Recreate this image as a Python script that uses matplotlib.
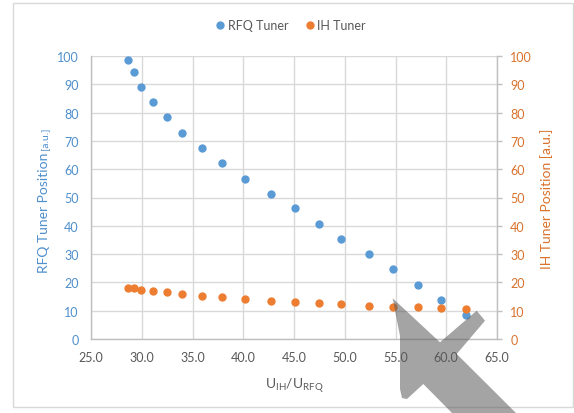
import matplotlib
matplotlib.use("Agg")
from matplotlib import pyplot as plt
from matplotlib.lines import Line2D
from matplotlib.patches import Polygon, Rectangle
from matplotlib.ticker import FormatStrFormatter, MultipleLocator

plt.rcParams["font.family"] = ["Lato", "DejaVu Sans"]
plt.rcParams["mathtext.fontset"] = "custom"
plt.rcParams["mathtext.rm"] = "Lato"

# voltage ratio U_IH / U_RFQ (shared by both series)
u_ratio = [28.6, 29.2, 29.9, 31.1, 32.5, 34.0, 35.9, 37.9, 40.2, 42.7,
           45.1, 47.5, 49.6, 52.4, 54.8, 57.2, 59.5, 61.9]
rfq_tuner = [98.7, 94.3, 88.9, 83.7, 78.3, 72.8, 67.6, 62.2, 56.6, 51.4,
             46.2, 40.6, 35.3, 30.0, 24.6, 19.2, 13.9, 8.6]
ih_tuner = [18.0, 17.9, 17.4, 17.1, 16.5, 16.0, 15.2, 14.7, 14.1, 13.5,
            13.1, 12.8, 12.4, 11.8, 11.4, 11.2, 10.9, 10.7]
series_names = ["RFQ Tuner", "IH Tuner"]

blue = "#5B9BD5"
orange = "#ED7D31"
blue_txt = "#4F8FCC"
orange_txt = "#D9722C"
gray_txt = "#595959"
grid_c = "#D9D9D9"
axis_c = "#BFBFBF"

W, H = 574, 414


def px(x, y):
    "pixel (from top-left) -> figure fraction"
    return x / W, 1 - y / H


fig = plt.figure(figsize=(W / 100, H / 100), dpi=100)
ax = fig.add_axes([91 / W, 74 / H, 406 / W, 283 / H])
ax2 = ax.twinx()

# outer chart frame
x0, y0 = px(13, 408)
fig.add_artist(Rectangle((x0, y0), 560 / W, 404 / H, transform=fig.transFigure,
                         fill=False, ec=grid_c, lw=1.0))

ax.set_xlim(25, 65)
ax.set_ylim(0, 100)
ax2.set_ylim(0, 100)
ax.xaxis.set_major_locator(MultipleLocator(5))
ax.xaxis.set_major_formatter(FormatStrFormatter("%.1f"))
ax.yaxis.set_major_locator(MultipleLocator(10))
ax2.yaxis.set_major_locator(MultipleLocator(10))

ax.grid(True, color=grid_c, lw=1.0)
ax.set_axisbelow(True)

for s in ["top", "right"]:
    ax.spines[s].set_visible(False)
for s in ["left", "bottom"]:
    ax.spines[s].set_color(axis_c)
    ax.spines[s].set_linewidth(1.0)
for s in ["top", "left", "bottom"]:
    ax2.spines[s].set_visible(False)
ax2.spines["right"].set_color(axis_c)
ax2.spines["right"].set_linewidth(1.0)

ax.tick_params(axis="x", length=0, labelcolor=gray_txt, labelsize=9, pad=9)
ax.tick_params(axis="y", length=0, labelcolor=blue_txt, labelsize=9, pad=9)
ax2.tick_params(axis="y", length=3.5, width=1.0, color=axis_c,
                labelcolor=orange_txt, labelsize=9, pad=6)

ax.plot(u_ratio, rfq_tuner, ls="none", marker="o", ms=6, color=blue,
        mec="none", clip_on=False, zorder=3)
ax2.plot(u_ratio, ih_tuner, ls="none", marker="o", ms=6, color=orange,
         mec="none", clip_on=False, zorder=3)

ax.set_xlabel(r"U$_{\mathregular{IH}}$/U$_{\mathregular{RFQ}}$",
              color=gray_txt, fontsize=10, labelpad=8)

# legend
handles = [Line2D([], [], ls="none", marker="o", ms=6, color=c, mec="none")
           for c in (blue, orange)]
leg = fig.legend(handles, series_names, loc="center", ncol=2,
                 bbox_to_anchor=px(290, 26), frameon=False, fontsize=9,
                 handletextpad=0.1, columnspacing=1.2, handlelength=1.0)
for t in leg.get_texts():
    t.set_color(gray_txt)

# y labels (left one has smaller unit)
lx, ly = px(48, 273)
lab = fig.text(lx, ly, "RFQ Tuner Position", rotation=90, rotation_mode="anchor",
               ha="left", va="baseline", color=blue_txt, fontsize=10)
fig.canvas.draw()
bb = lab.get_window_extent().transformed(fig.transFigure.inverted())
fig.text(lx, bb.y1 + 3 / H, "[a.u.]", rotation=90, rotation_mode="anchor",
         ha="left", va="baseline", color=blue_txt, fontsize=7.5)

rx, ry = px(547, 199)
fig.text(rx, ry, "IH Tuner Position [a.u.]", rotation=90, ha="center",
         va="center", color=orange_txt, fontsize=10)

# gray pointer arrow overlay
arrow_px = [(392.7, 299.3), (440, 343.3), (476.7, 311.7), (485, 321.7),
            (456.7, 355), (520, 418), (456, 418), (423.3, 385),
            (407, 400), (402, 399), (400, 390), (400, 337)]
fig.add_artist(Polygon([px(x, y) for x, y in arrow_px], closed=True,
                       transform=fig.transFigure, color="#595959",
                       alpha=0.55, lw=0, zorder=10))

fig.savefig("out.png", dpi=100)
